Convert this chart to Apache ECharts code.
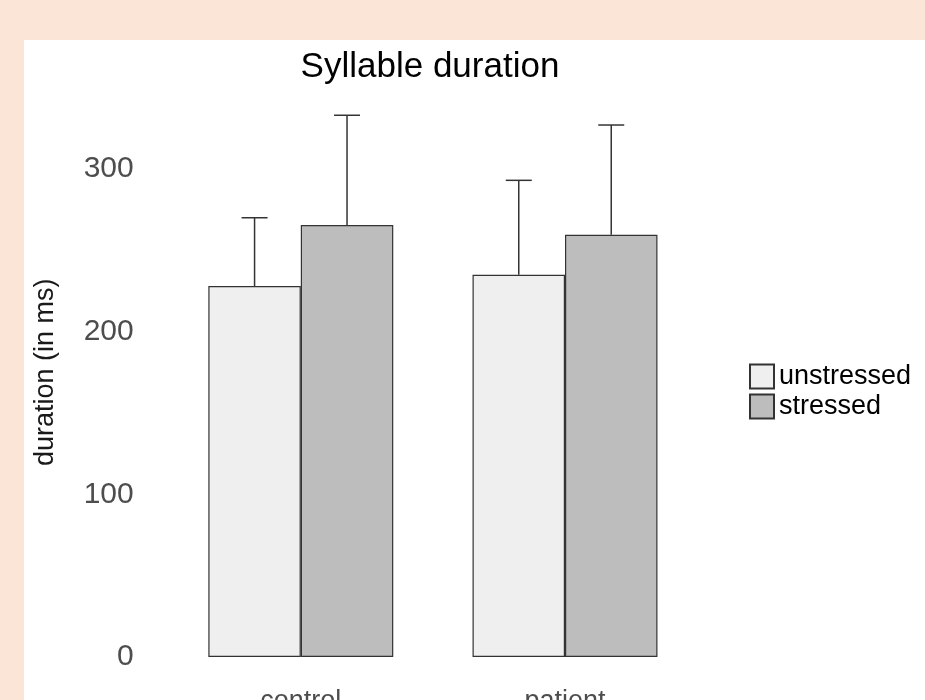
<!DOCTYPE html>
<html>
<head>
<meta charset="utf-8">
<script src="https://cdn.jsdelivr.net/npm/echarts@6/dist/echarts.min.js"></script>
<style>
  html, body { margin: 0; padding: 0; background: #fbe5d7; }
  #chart { width: 925px; height: 700px; }
</style>
</head>
<body>
<div id="chart"></div>
<script>
// ---- data ----
const categories = ['control', 'patient'];
const seriesNames = ['unstressed', 'stressed'];
const unstressedMean = [228, 235];
const stressedMean = [265.5, 259.5];
const unstressedUpper = [270, 293];
const stressedUpper = [333, 327];
const yTicks = [0, 100, 200, 300];

const FONT = 'Liberation Sans, Arial, sans-serif';
const GAP = 0.30;

const chart = echarts.init(document.getElementById('chart'), null, { renderer: 'canvas' });

function errSeries(means, uppers, sign) {
  return {
    type: 'custom',
    silent: true,
    z: 5,
    data: means.map((m, i) => [i, m, uppers[i]]),
    renderItem: function (params, api) {
      const p0 = api.coord([api.value(0), api.value(1)]);
      const p1 = api.coord([api.value(0), api.value(2)]);
      const band = api.size([1, 0])[0];
      const barW = band * (1 - GAP) / 2;
      const cx = p0[0] + sign * barW / 2;
      const half = 13;
      const style = { stroke: '#333333', lineWidth: 1.5 };
      return {
        type: 'group',
        children: [
          { type: 'line', shape: { x1: cx, y1: p0[1], x2: cx, y2: p1[1] }, style: style },
          { type: 'line', shape: { x1: cx - half, y1: p1[1], x2: cx + half, y2: p1[1] }, style: style }
        ]
      };
    }
  };
}

const option = {
  animation: false,
  backgroundColor: '#fbe5d7',
  graphic: [
    { type: 'rect', z: -10, shape: { x: 24, y: 40, width: 901, height: 660 }, style: { fill: '#ffffff' } }
  ],
  title: {
    text: 'Syllable duration',
    left: 425,
    textAlign: 'center',
    top: 45,
    textStyle: { fontFamily: FONT, fontSize: 35, fontWeight: 'normal', color: '#000000' }
  },
  legend: {
    orient: 'vertical',
    left: 749,
    top: 363,
    padding: 0,
    itemWidth: 24,
    itemHeight: 24,
    itemGap: 3,
    icon: 'rect',
    data: seriesNames,
    textStyle: { fontFamily: FONT, fontSize: 27, color: '#000000' }
  },
  grid: { left: 168.7, right: 227.9, top: 87.6, bottom: 43, containLabel: false, outerBoundsMode: 'none' },
  xAxis: {
    type: 'category',
    data: categories,
    axisLine: { show: false },
    axisTick: { show: false },
    axisLabel: { fontFamily: FONT, fontSize: 27, color: '#4d4d4d', margin: 31 }
  },
  yAxis: {
    type: 'value',
    min: 0,
    max: 350,
    interval: 100,
    name: 'duration (in ms)',
    nameLocation: 'middle',
    nameGap: 110,
    nameTextStyle: { fontFamily: FONT, fontSize: 27, color: '#1a1a1a' },
    axisLine: { show: false },
    axisTick: { show: false },
    splitLine: { show: false },
    axisLabel: {
      fontFamily: FONT, fontSize: 30, color: '#4d4d4d', margin: 35,
      showMaxLabel: false,
      formatter: v => (yTicks.indexOf(v) >= 0 ? String(v) : '')
    }
  },
  series: [
    {
      name: seriesNames[0], type: 'bar', data: unstressedMean,
      barGap: '0%', barCategoryGap: (GAP * 100) + '%',
      itemStyle: { color: '#efefef', borderColor: '#333333', borderWidth: 1.2 }
    },
    {
      name: seriesNames[1], type: 'bar', data: stressedMean,
      barGap: '0%', barCategoryGap: (GAP * 100) + '%',
      itemStyle: { color: '#bdbdbd', borderColor: '#333333', borderWidth: 1.2 }
    },
    errSeries(unstressedMean, unstressedUpper, -1),
    errSeries(stressedMean, stressedUpper, 1)
  ]
};
chart.setOption(option);
</script>
</body>
</html>
